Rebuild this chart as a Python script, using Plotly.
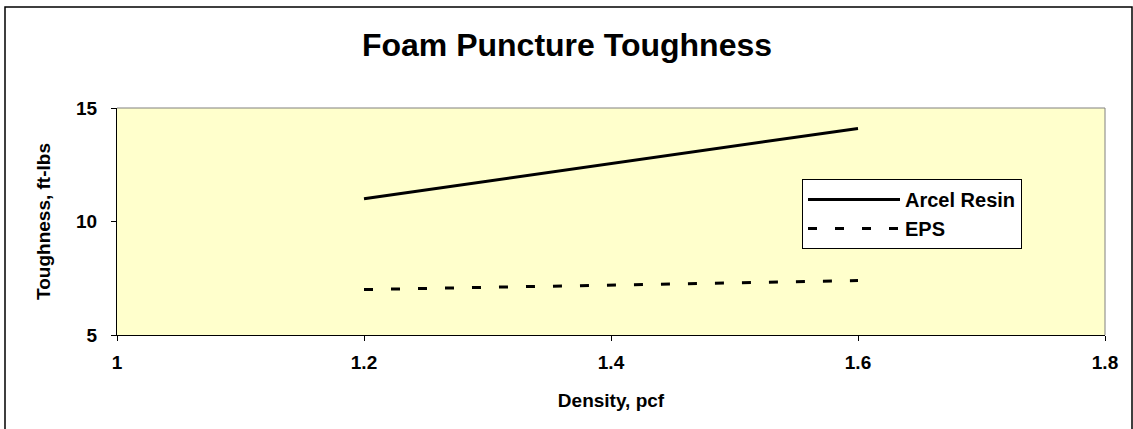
import plotly.graph_objects as go

density = [1.2, 1.6]
arcel_resin = [11.0, 14.1]
eps = [7.0, 7.4]
x_ticks = [1, 1.2, 1.4, 1.6, 1.8]
x_tick_labels = ["1", "1.2", "1.4", "1.6", "1.8"]
y_ticks = [5, 10, 15]

FONT = "Liberation Sans, Arial, sans-serif"
W, H = 1133, 429
L, R, T, B = 117, 28, 108, 94
PW, PH = W - L - R, H - T - B

fig = go.Figure()
fig.add_trace(go.Scatter(x=density, y=arcel_resin, mode="lines", name="<b>Arcel Resin</b>",
                         line=dict(color="black", width=3)))
fig.add_trace(go.Scatter(x=density, y=eps, mode="lines", name="<b>EPS</b>",
                         line=dict(color="black", width=3, dash="9px,18px")))

fig.update_layout(
    width=W, height=H,
    margin=dict(l=L, r=R, t=T, b=B),
    paper_bgcolor="white",
    plot_bgcolor="#FFFFCC",
    font=dict(family=FONT, color="black"),
    title=dict(text="<b>Foam Puncture Toughness</b>", x=(567 - L) / PW, xref="paper", xanchor="center",
               y=1 - 45 / H, yanchor="middle", font=dict(size=32, family=FONT)),
    showlegend=True,
    legend=dict(x=(802 - L) / PW, y=(335 - 179) / PH, xanchor="left", yanchor="top",
                bgcolor="white", bordercolor="black", borderwidth=1,
                font=dict(size=20, family=FONT), tracegroupgap=0,
                itemwidth=92),
    xaxis=dict(range=[1, 1.8], tickvals=x_ticks, ticktext=["<b>%s</b>" % t for t in x_tick_labels],
               showgrid=False, zeroline=False, showline=True, linecolor="black", linewidth=1,
               ticks="outside", ticklen=5, tickcolor="black",
               tickfont=dict(size=19, family=FONT), ticklabelstandoff=5,
               title=dict(text="<b>Density, pcf</b>", font=dict(size=19, family=FONT), standoff=21)),
    yaxis=dict(range=[5, 15], tickvals=y_ticks, ticktext=["<b>%d</b>" % v for v in y_ticks],
               showgrid=False, zeroline=False, showline=True, linecolor="black", linewidth=1,
               ticks="outside", ticklen=5, tickcolor="black",
               tickfont=dict(size=19, family=FONT), ticklabelstandoff=10,
               title=dict(text="<b>Toughness, ft-lbs</b>", font=dict(size=19, family=FONT), standoff=20)),
)

# gray top/right plot border
fig.add_shape(type="line", xref="paper", yref="paper", x0=0, x1=1, y0=1, y1=1,
              line=dict(color="#808080", width=1))
fig.add_shape(type="line", xref="paper", yref="paper", x0=1, x1=1, y0=0, y1=1,
              line=dict(color="#808080", width=1))
# outer chart frame
fig.add_shape(type="rect", xref="paper", yref="paper",
              x0=(5 - L) / PW, x1=(1132 - L) / PW,
              y0=(335 - 440) / PH, y1=(335 - 7) / PH,
              line=dict(color="black", width=1.5), layer="below")

fig.write_html("out.html", config={"displayModeBar": False},
               post_script="document.body.style.margin='0px';")
